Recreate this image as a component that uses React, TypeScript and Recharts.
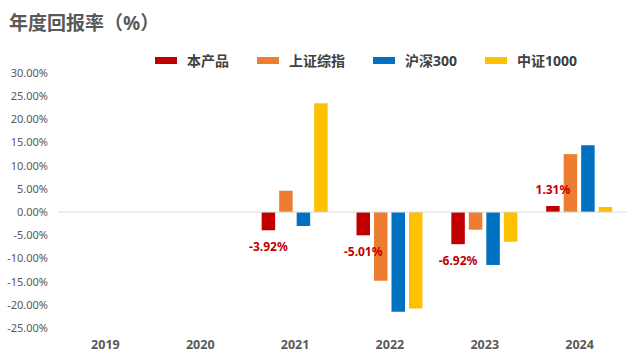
import { BarChart, Bar, XAxis, YAxis, ReferenceLine, LabelList } from "recharts";

const years = ["2019", "2020", "2021", "2022", "2023", "2024"];
const product = [null, null, -3.92, -5.01, -6.92, 1.31];
const shComposite = [null, null, 4.6, -14.8, -3.8, 12.5];
const hs300 = [null, null, -3.0, -21.5, -11.4, 14.4];
const zz1000 = [null, null, 23.5, -20.8, -6.4, 1.1];
const yTicks = [-25, -20, -15, -10, -5, 0, 5, 10, 15, 20, 25, 30];

const SERIES = [
  { key: "product", name: "本产品", color: "#C00000" },
  { key: "sh", name: "上证综指", color: "#ED7D31" },
  { key: "hs300", name: "沪深300", color: "#0070C0" },
  { key: "zz1000", name: "中证1000", color: "#FFC000" },
];

const FONT = "'Noto Sans', 'Noto Sans CJK SC', sans-serif";

const data = years.map((year, i) => ({
  year,
  product: product[i],
  sh: shComposite[i],
  hs300: hs300[i],
  zz1000: zz1000[i],
}));

const renderValueLabel = (props: any) => {
  const { x, y, width, height, value } = props;
  if (value == null) return null;
  const top = Math.min(y, y + height);
  const bottom = Math.max(y, y + height);
  const ty = value < 0 ? bottom + 16.5 : top - 16.5;
  return (
    <text
      x={x + width / 2}
      y={ty}
      textAnchor="middle"
      dominantBaseline="central"
      fill="#C00000"
      fontSize={12}
      fontWeight="bold"
      fontFamily={FONT}
    >
      {Number(value).toFixed(2)}%
    </text>
  );
};

export default function App() {
  return (
    <div style={{ position: "absolute", left: 0, top: 0, width: 640, height: 360, background: "#fff", fontFamily: FONT }}>
      <div style={{ position: "absolute", left: 9, top: 10, fontSize: 19, fontWeight: "bold", color: "#595959", lineHeight: "26px" }}>
        年度回报率（%）
      </div>
      <div style={{ position: "absolute", left: 155, top: 50, display: "flex", alignItems: "center", height: 20 }}>
        {SERIES.map((s) => (
          <div key={s.key} style={{ display: "flex", alignItems: "center", marginRight: 28 }}>
            <span style={{ display: "inline-block", width: 22, height: 7, background: s.color, marginRight: 10 }} />
            <span style={{ fontSize: 14, fontWeight: "bold", color: "#404040" }}>{s.name}</span>
          </div>
        ))}
      </div>
      <BarChart
        width={640}
        height={360}
        data={data}
        margin={{ top: 73, right: 13, bottom: 0, left: 0 }}
        barSize={13.5}
        barGap={4}
      >
        <XAxis
          dataKey="year"
          axisLine={false}
          tickLine={false}
          height={32}
          tickMargin={6}
          tick={{ fill: "#595959", fontSize: 12.5, fontWeight: "bold", fontFamily: FONT }}
        />
        <YAxis
          width={58}
          domain={[-25, 30]}
          ticks={yTicks}
          axisLine={false}
          tickLine={false}
          tickMargin={4}
          tickFormatter={(v: number) => `${v.toFixed(2)}%`}
          tick={{ fill: "#595959", fontSize: 11, fontFamily: FONT }}
        />
        <ReferenceLine y={0} stroke="#D9D9D9" strokeWidth={1} />
        {SERIES.map((s) => (
          <Bar key={s.key} dataKey={s.key} name={s.name} fill={s.color} isAnimationActive={false}>
            {s.key === "product" && <LabelList dataKey="product" content={renderValueLabel} />}
          </Bar>
        ))}
      </BarChart>
    </div>
  );
}
